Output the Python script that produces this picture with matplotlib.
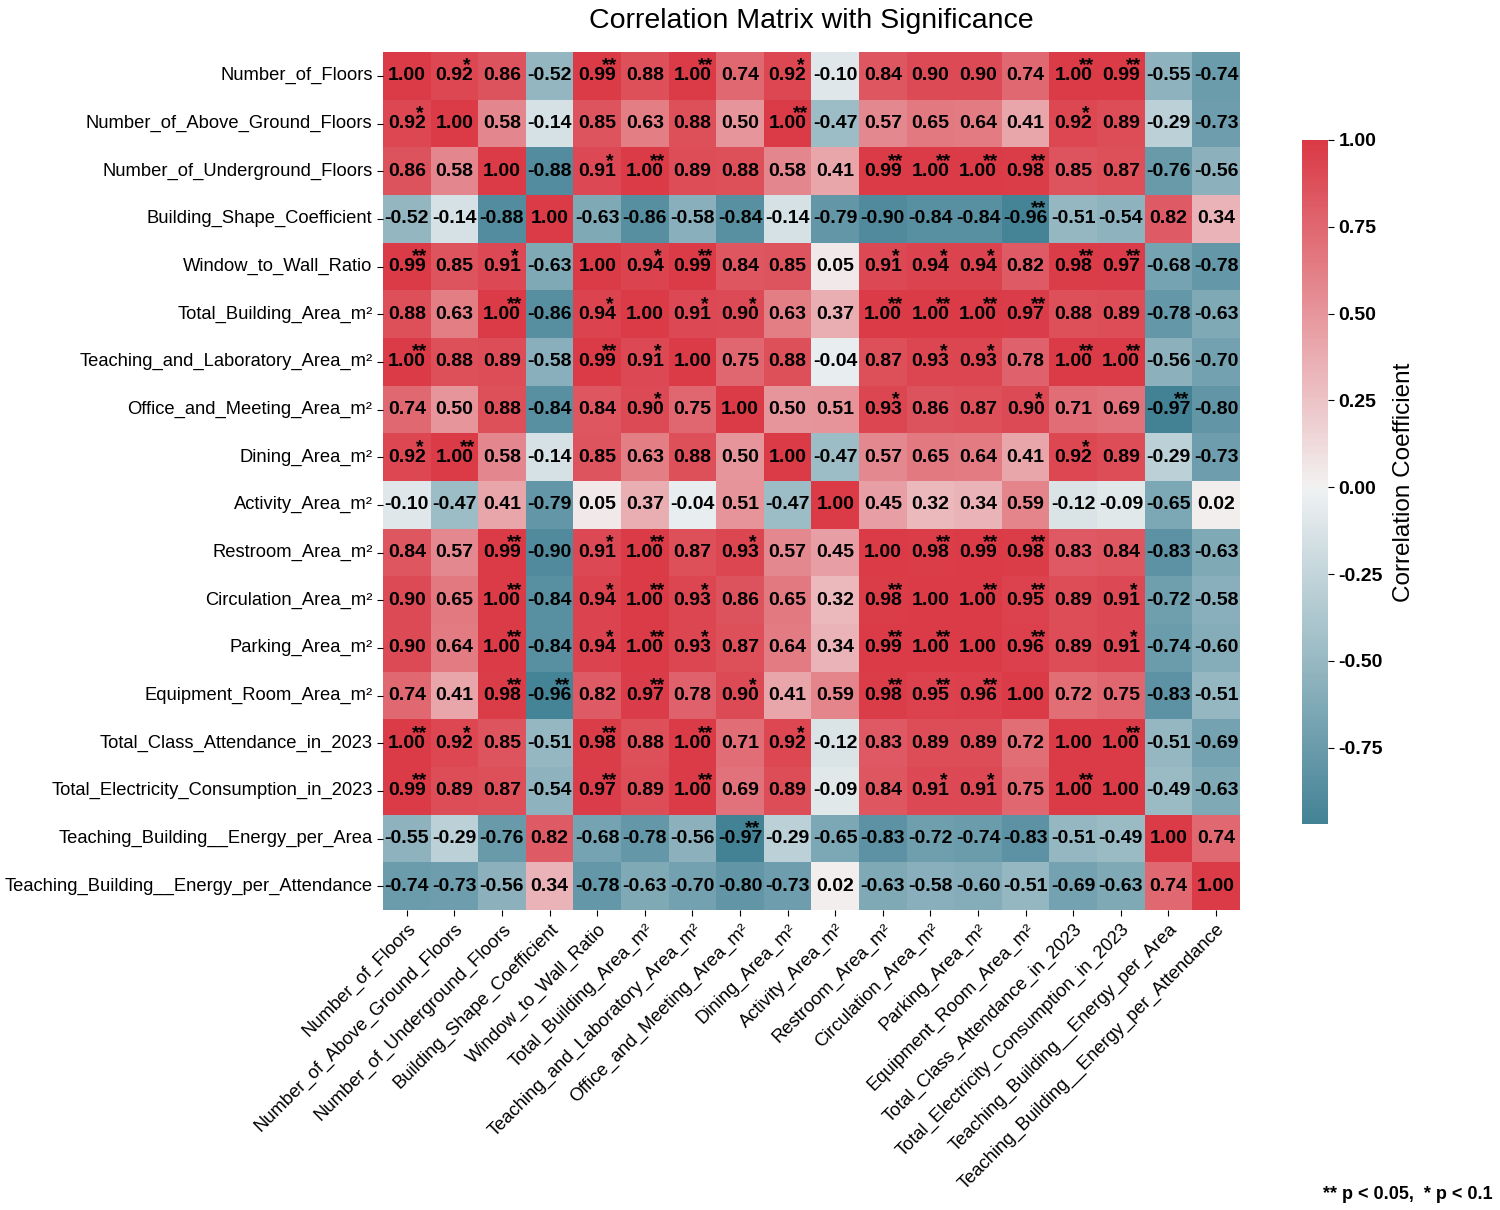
import numpy as np
import matplotlib
matplotlib.use("Agg")
import matplotlib.pyplot as plt
import seaborn as sns

plt.rcParams['font.family'] = ['Liberation Sans', 'DejaVu Sans']

labels = [
    "Number_of_Floors", "Number_of_Above_Ground_Floors", "Number_of_Underground_Floors",
    "Building_Shape_Coefficient", "Window_to_Wall_Ratio", "Total_Building_Area_m²",
    "Teaching_and_Laboratory_Area_m²", "Office_and_Meeting_Area_m²", "Dining_Area_m²",
    "Activity_Area_m²", "Restroom_Area_m²", "Circulation_Area_m²", "Parking_Area_m²",
    "Equipment_Room_Area_m²", "Total_Class_Attendance_in_2023",
    "Total_Electricity_Consumption_in_2023", "Teaching_Building__Energy_per_Area",
    "Teaching_Building__Energy_per_Attendance",
]

corr = [
    [1.00, 0.92, 0.86, -0.52, 0.99, 0.88, 1.00, 0.74, 0.92, -0.10, 0.84, 0.90, 0.90, 0.74, 1.00, 0.99, -0.55, -0.74],
    [0.92, 1.00, 0.58, -0.14, 0.85, 0.63, 0.88, 0.50, 1.00, -0.47, 0.57, 0.65, 0.64, 0.41, 0.92, 0.89, -0.29, -0.73],
    [0.86, 0.58, 1.00, -0.88, 0.91, 1.00, 0.89, 0.88, 0.58, 0.41, 0.99, 1.00, 1.00, 0.98, 0.85, 0.87, -0.76, -0.56],
    [-0.52, -0.14, -0.88, 1.00, -0.63, -0.86, -0.58, -0.84, -0.14, -0.79, -0.90, -0.84, -0.84, -0.96, -0.51, -0.54, 0.82, 0.34],
    [0.99, 0.85, 0.91, -0.63, 1.00, 0.94, 0.99, 0.84, 0.85, 0.05, 0.91, 0.94, 0.94, 0.82, 0.98, 0.97, -0.68, -0.78],
    [0.88, 0.63, 1.00, -0.86, 0.94, 1.00, 0.91, 0.90, 0.63, 0.37, 1.00, 1.00, 1.00, 0.97, 0.88, 0.89, -0.78, -0.63],
    [1.00, 0.88, 0.89, -0.58, 0.99, 0.91, 1.00, 0.75, 0.88, -0.04, 0.87, 0.93, 0.93, 0.78, 1.00, 1.00, -0.56, -0.70],
    [0.74, 0.50, 0.88, -0.84, 0.84, 0.90, 0.75, 1.00, 0.50, 0.51, 0.93, 0.86, 0.87, 0.90, 0.71, 0.69, -0.97, -0.80],
    [0.92, 1.00, 0.58, -0.14, 0.85, 0.63, 0.88, 0.50, 1.00, -0.47, 0.57, 0.65, 0.64, 0.41, 0.92, 0.89, -0.29, -0.73],
    [-0.10, -0.47, 0.41, -0.79, 0.05, 0.37, -0.04, 0.51, -0.47, 1.00, 0.45, 0.32, 0.34, 0.59, -0.12, -0.09, -0.65, 0.02],
    [0.84, 0.57, 0.99, -0.90, 0.91, 1.00, 0.87, 0.93, 0.57, 0.45, 1.00, 0.98, 0.99, 0.98, 0.83, 0.84, -0.83, -0.63],
    [0.90, 0.65, 1.00, -0.84, 0.94, 1.00, 0.93, 0.86, 0.65, 0.32, 0.98, 1.00, 1.00, 0.95, 0.89, 0.91, -0.72, -0.58],
    [0.90, 0.64, 1.00, -0.84, 0.94, 1.00, 0.93, 0.87, 0.64, 0.34, 0.99, 1.00, 1.00, 0.96, 0.89, 0.91, -0.74, -0.60],
    [0.74, 0.41, 0.98, -0.96, 0.82, 0.97, 0.78, 0.90, 0.41, 0.59, 0.98, 0.95, 0.96, 1.00, 0.72, 0.75, -0.83, -0.51],
    [1.00, 0.92, 0.85, -0.51, 0.98, 0.88, 1.00, 0.71, 0.92, -0.12, 0.83, 0.89, 0.89, 0.72, 1.00, 1.00, -0.51, -0.69],
    [0.99, 0.89, 0.87, -0.54, 0.97, 0.89, 1.00, 0.69, 0.89, -0.09, 0.84, 0.91, 0.91, 0.75, 1.00, 1.00, -0.49, -0.63],
    [-0.55, -0.29, -0.76, 0.82, -0.68, -0.78, -0.56, -0.97, -0.29, -0.65, -0.83, -0.72, -0.74, -0.83, -0.51, -0.49, 1.00, 0.74],
    [-0.74, -0.73, -0.56, 0.34, -0.78, -0.63, -0.70, -0.80, -0.73, 0.02, -0.63, -0.58, -0.60, -0.51, -0.69, -0.63, 0.74, 1.00],
]

# significance stars: "" none, "*" p<0.1, "**" p<0.05
sig = [
    ["", "*", "", "", "**", "", "**", "", "*", "", "", "", "", "", "**", "**", "", ""],
    ["*", "", "", "", "", "", "", "", "**", "", "", "", "", "", "*", "", "", ""],
    ["", "", "", "", "*", "**", "", "", "", "", "**", "**", "**", "**", "", "", "", ""],
    ["", "", "", "", "", "", "", "", "", "", "", "", "", "**", "", "", "", ""],
    ["**", "", "*", "", "", "*", "**", "", "", "", "*", "*", "*", "", "**", "**", "", ""],
    ["", "", "**", "", "*", "", "*", "*", "", "", "**", "**", "**", "**", "", "", "", ""],
    ["**", "", "", "", "**", "*", "", "", "", "", "", "*", "*", "", "**", "**", "", ""],
    ["", "", "", "", "", "*", "", "", "", "", "*", "", "", "*", "", "", "**", ""],
    ["*", "**", "", "", "", "", "", "", "", "", "", "", "", "", "*", "", "", ""],
    ["", "", "", "", "", "", "", "", "", "", "", "", "", "", "", "", "", ""],
    ["", "", "**", "", "*", "**", "", "*", "", "", "", "**", "**", "**", "", "", "", ""],
    ["", "", "**", "", "*", "**", "*", "", "", "", "**", "", "**", "**", "", "*", "", ""],
    ["", "", "**", "", "*", "**", "*", "", "", "", "**", "**", "", "**", "", "*", "", ""],
    ["", "", "**", "**", "", "**", "", "*", "", "", "**", "**", "**", "", "", "", "", ""],
    ["**", "*", "", "", "**", "", "**", "", "*", "", "", "", "", "", "", "**", "", ""],
    ["**", "", "", "", "**", "", "**", "", "", "", "", "*", "*", "", "**", "", "", ""],
    ["", "", "", "", "", "", "", "**", "", "", "", "", "", "", "", "", "", ""],
    ["", "", "", "", "", "", "", "", "", "", "", "", "", "", "", "", "", ""],
]

data = np.array(corr)
n = len(labels)

fig = plt.figure(figsize=(15, 12.1), dpi=100)
ax = fig.add_axes([0.2553, 0.2479, 0.5713, 0.7091])
cax = fig.add_axes([0.868, 0.319, 0.0173, 0.5653])

cmap = sns.diverging_palette(220, 10, as_cmap=True)
sns.heatmap(data, ax=ax, cbar_ax=cax, cmap=cmap, center=0,
            vmin=data.min(), vmax=1.0, annot=False,
            xticklabels=labels, yticklabels=labels, square=False)

for i in range(n):
    for j in range(n):
        ax.text(j + 0.5, i + 0.5, f"{data[i, j]:.2f}", ha='center', va='center',
                fontsize=14, fontweight='bold', color='black')
        if sig[i][j]:
            ax.text(j + 0.77, i + 0.29, sig[i][j], ha='center', va='center',
                    fontsize=14, fontweight='bold', color='black')

ax.set_xticklabels(labels, rotation=45, ha='right', rotation_mode='anchor', fontsize=13.2)
ax.set_yticklabels(labels, rotation=0, fontsize=13.2)
ax.tick_params(axis='both', length=4, width=0.8)
ax.set_title("Correlation Matrix with Significance", fontsize=20.5, pad=17)

cbar = ax.collections[0].colorbar
ticks = [-0.75, -0.5, -0.25, 0, 0.25, 0.5, 0.75, 1.0]
cbar.set_ticks(ticks)
cbar.set_ticklabels([f"{t:.2f}" for t in ticks])
cbar.ax.tick_params(labelsize=14, length=4)
for t in cbar.ax.get_yticklabels():
    t.set_fontweight('bold')
cbar.outline.set_visible(False)
cbar.set_label("Correlation Coefficient", fontsize=17.5, labelpad=7)

fig.text(0.995, 0.006, "** p < 0.05,  * p < 0.1", ha='right', va='bottom',
         fontsize=13, fontweight='bold')

fig.savefig("out.png", dpi=100)
